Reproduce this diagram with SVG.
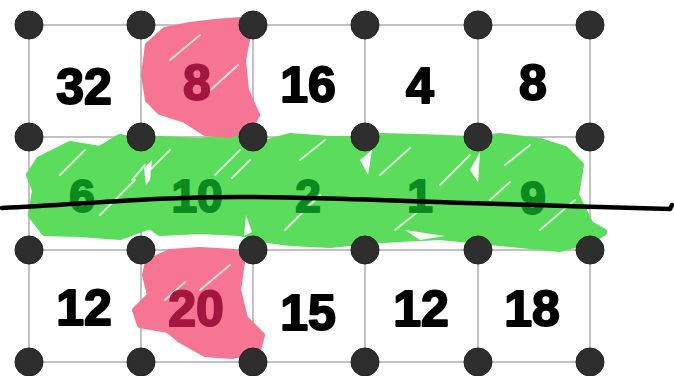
<svg xmlns="http://www.w3.org/2000/svg" width="674" height="376" viewBox="0 0 674 376">
<defs>
<style>
.grid{stroke:#c2c2c2;stroke-width:2;fill:none}
.dot{fill:#2e2e2e;stroke:#222;stroke-width:1}
.num{font-family:"Liberation Sans",Arial,sans-serif;font-weight:bold;font-size:50px;text-anchor:middle;fill:#000;stroke:#000;stroke-width:2;stroke-linejoin:round}
.num.g{fill:#0d8a1f;stroke:#0d8a1f;font-size:46px}
.num.p{fill:#a3163f;stroke:#a3163f}
.green{fill:#5cdc5c;stroke:#5cdc5c;stroke-width:8;stroke-linejoin:round}
.pink{fill:#f57592;stroke:#f57592;stroke-width:6;stroke-linejoin:round}
.hatch{stroke:#fff;stroke-width:2;stroke-linecap:round;opacity:0.75;fill:none}
.gap{fill:#fff}
.cut{stroke:#000;stroke-width:4.5;fill:none;stroke-linecap:round;stroke-linejoin:round}
</style>
</defs>
<rect width="674" height="376" fill="#fff"/>
<g id="connectors">
<g id="grid-lines" class="grid">
<line x1="29" y1="25" x2="590" y2="25"/>
<line x1="29" y1="137" x2="590" y2="137"/>
<line x1="29" y1="250" x2="590" y2="250"/>
<line x1="29" y1="362" x2="590" y2="362"/>
<line x1="29" y1="25" x2="29" y2="362"/>
<line x1="141" y1="25" x2="141" y2="362"/>
<line x1="253" y1="25" x2="253" y2="362"/>
<line x1="365" y1="25" x2="365" y2="362"/>
<line x1="478" y1="25" x2="478" y2="362"/>
<line x1="590" y1="25" x2="590" y2="362"/>
</g>
</g>
<g id="shading">
<path class="green" d="M40 160 L70 145 L100 150 L120 138 L140 143 L160 140 L200 142 L235 138 L260 145 L290 137 L330 140 L360 140 L380 137 L420 138 L470 140 L500 137 L540 142 L565 150 L580 165 L575 195 L590 225 L603 232 L590 240 L560 248 L520 244 L480 240 L440 236 L400 238 L370 240 L330 244 L290 242 L260 238 L240 232 L200 230 L160 232 L150 225 L120 236 L80 233 L45 232 L32 215 L36 190 L30 175 Z"/>
<g class="gap">
<path d="M144 168 L152 160 L150 180 L146 185 Z"/>
<path d="M246 215 L252 232 L244 236 Z"/>
<path d="M360 160 L372 150 L368 175 Z"/>
<path d="M470 170 L480 152 L478 182 Z"/>
<path d="M405 230 L445 236 L420 240 Z"/>
</g>
<g class="hatch">
<line x1="60" y1="175" x2="85" y2="150"/><line x1="100" y1="215" x2="135" y2="180"/><line x1="150" y1="170" x2="170" y2="150"/>
<line x1="215" y1="175" x2="240" y2="150"/><line x1="285" y1="230" x2="320" y2="195"/><line x1="300" y1="160" x2="325" y2="140"/>
<line x1="380" y1="175" x2="410" y2="148"/><line x1="440" y1="185" x2="470" y2="155"/><line x1="395" y1="230" x2="420" y2="210"/>
<line x1="505" y1="165" x2="530" y2="145"/><line x1="540" y1="230" x2="575" y2="200"/><line x1="490" y1="200" x2="510" y2="182"/>
<line x1="145" y1="165" x2="132" y2="180"/><line x1="250" y1="160" x2="232" y2="178"/>
</g>
<path class="pink" d="M148 45 L165 30 L190 25 L215 22 L240 20 L248 35 L243 60 L246 90 L257 115 L250 128 L230 135 L205 133 L185 120 L160 112 L148 100 L144 75 Z"/>
<path class="pink" d="M148 262 L170 252 L200 250 L235 252 L242 262 L238 290 L245 318 L262 335 L258 350 L232 356 L205 354 L180 340 L168 330 L140 325 L135 310 L150 295 L145 275 Z"/>
<g class="hatch" opacity="0.5">
<line x1="170" y1="60" x2="200" y2="35"/><line x1="205" y1="95" x2="238" y2="65"/>
<line x1="200" y1="290" x2="230" y2="265"/><line x1="165" y1="300" x2="185" y2="282"/>
</g>
</g>
<g id="dots">
<circle class="dot" cx="29" cy="25" r="14"/><circle class="dot" cx="141" cy="25" r="14"/><circle class="dot" cx="253" cy="25" r="14"/><circle class="dot" cx="365" cy="25" r="14"/><circle class="dot" cx="478" cy="25" r="14"/><circle class="dot" cx="590" cy="25" r="14"/>
<circle class="dot" cx="29" cy="137" r="14"/><circle class="dot" cx="141" cy="137" r="14"/><circle class="dot" cx="253" cy="137" r="14"/><circle class="dot" cx="365" cy="137" r="14"/><circle class="dot" cx="478" cy="137" r="14"/><circle class="dot" cx="590" cy="137" r="14"/>
<circle class="dot" cx="29" cy="250" r="14"/><circle class="dot" cx="141" cy="250" r="14"/><circle class="dot" cx="253" cy="250" r="14"/><circle class="dot" cx="365" cy="250" r="14"/><circle class="dot" cx="478" cy="250" r="14"/><circle class="dot" cx="590" cy="250" r="14"/>
<circle class="dot" cx="29" cy="362" r="14"/><circle class="dot" cx="141" cy="362" r="14"/><circle class="dot" cx="253" cy="362" r="14"/><circle class="dot" cx="365" cy="362" r="14"/><circle class="dot" cx="478" cy="362" r="14"/><circle class="dot" cx="590" cy="362" r="14"/>
</g>
<g id="cell-r1c1"><text class="num" x="84" y="104">32</text></g>
<g id="cell-r1c2"><text class="num p" x="197" y="100">8</text></g>
<g id="cell-r1c3"><text class="num" x="308" y="102">16</text></g>
<g id="cell-r1c4"><text class="num" x="420" y="103">4</text></g>
<g id="cell-r1c5"><text class="num" x="533" y="100">8</text></g>
<g id="cell-r2c1"><text class="num g" x="82" y="212">6</text></g>
<g id="cell-r2c2"><text class="num g" x="197" y="212">10</text></g>
<g id="cell-r2c3"><text class="num g" x="308" y="212">2</text></g>
<g id="cell-r2c4"><text class="num g" x="420" y="212">1</text></g>
<g id="cell-r2c5"><text class="num g" x="533" y="214">9</text></g>
<g id="cell-r3c1"><text class="num" x="84" y="325">12</text></g>
<g id="cell-r3c2"><text class="num p" x="196" y="326">20</text></g>
<g id="cell-r3c3"><text class="num" x="308" y="330">15</text></g>
<g id="cell-r3c4"><text class="num" x="421" y="326">12</text></g>
<g id="cell-r3c5"><text class="num" x="532" y="326">18</text></g>
<g id="cut-line">
<path class="cut" d="M2 208 C80 205 150 196 253 197 C350 198 450 203 600 207 L670 209 L672 205"/>
</g>
</svg>
